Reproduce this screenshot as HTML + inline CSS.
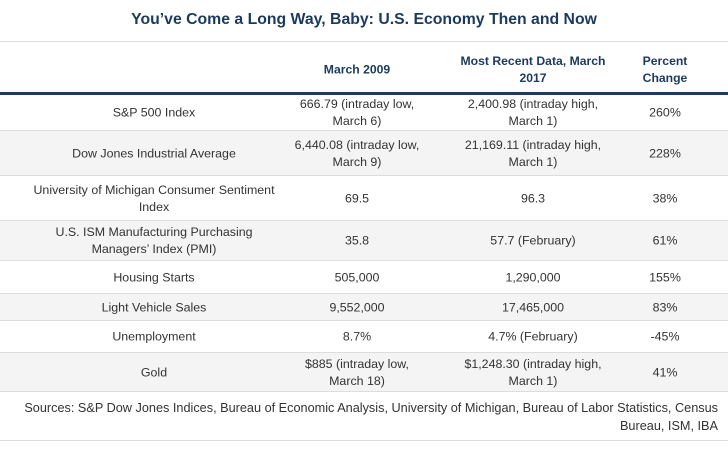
<!DOCTYPE html>
<html><head><meta charset="utf-8"><style>
body{margin:0;width:728px;height:452px;background:#fff;font-family:"Liberation Sans",sans-serif;position:relative;overflow:hidden;color:#333}
.t{position:absolute;left:0;width:728px;text-align:center;top:11px;font-size:15.8px;font-weight:bold;color:#1c3a5e}
.row{position:absolute;left:0;width:728px}
.c{position:absolute;text-align:center;font-size:12.4px;line-height:17px;transform:translateY(-50%)}
.h{font-weight:bold;color:#1c3a5e;font-size:12.2px}
.line{position:absolute;left:0;width:728px;height:1px;background:#ddd}
</style></head><body>
<div class="t">You’ve Come a Long Way, Baby: U.S. Economy Then and Now</div>
<div class="line" style="top:41px"></div>
<div id="tbl"></div>
<div class="line" style="top:92px;height:3px;background:#1c3a5e"></div>
<script>
const centers=[154,357,533,665];
const widths=[300,130,190,80];
const headers=["","March 2009","Most Recent Data, March<br>2017","Percent<br>Change"];
const rows=[
["S&amp;P 500 Index","666.79 (intraday low,<br>March 6)","2,400.98 (intraday high,<br>March 1)","260%"],
["Dow Jones Industrial Average","6,440.08 (intraday low,<br>March 9)","21,169.11 (intraday high,<br>March 1)","228%"],
["University of Michigan Consumer Sentiment<br>Index","69.5","96.3","38%"],
["U.S. ISM Manufacturing Purchasing<br>Managers’ Index (PMI)","35.8","57.7 (February)","61%"],
["Housing Starts","505,000","1,290,000","155%"],
["Light Vehicle Sales","9,552,000","17,465,000","83%"],
["Unemployment","8.7%","4.7% (February)","-45%"],
["Gold","$885 (intraday low,<br>March 18)","$1,248.30 (intraday high,<br>March 1)","41%"]];
const bounds=[94,131,176,221,261,294,321,353,392];
const tbl=document.getElementById('tbl');
function cell(html,x,y,w,cls){const d=document.createElement('div');d.className='c '+(cls||'');d.innerHTML=html;d.style.left=(x-w/2)+'px';d.style.width=w+'px';d.style.top=y+'px';


tbl.appendChild(d);}
headers.forEach((h,i)=>cell(h,centers[i],70,widths[i],'h'));
rows.forEach((r,ri)=>{const y0=bounds[ri],y1=bounds[ri+1];
const bg=document.createElement('div');bg.className='row';bg.style.top=y0+'px';bg.style.height=(y1-y0)+'px';bg.style.background=ri%2?'#f4f4f5':'#fff';bg.style.borderBottom='1px solid #ddd';bg.style.boxSizing='border-box';


tbl.appendChild(bg);
r.forEach((v,i)=>cell(v,centers[i],(y0+y1)/2,widths[i]));});
const s=document.createElement('div');s.style.cssText='position:absolute;right:10px;top:399px;width:715px;text-align:right;font-size:12.7px;line-height:18px';
s.innerHTML='Sources: S&amp;P Dow Jones Indices, Bureau of Economic Analysis, University of Michigan, Bureau of Labor Statistics, Census<br>Bureau, ISM, IBA';


tbl.appendChild(s);
</script>
<div class="line" style="top:440px"></div>
</body></html>
